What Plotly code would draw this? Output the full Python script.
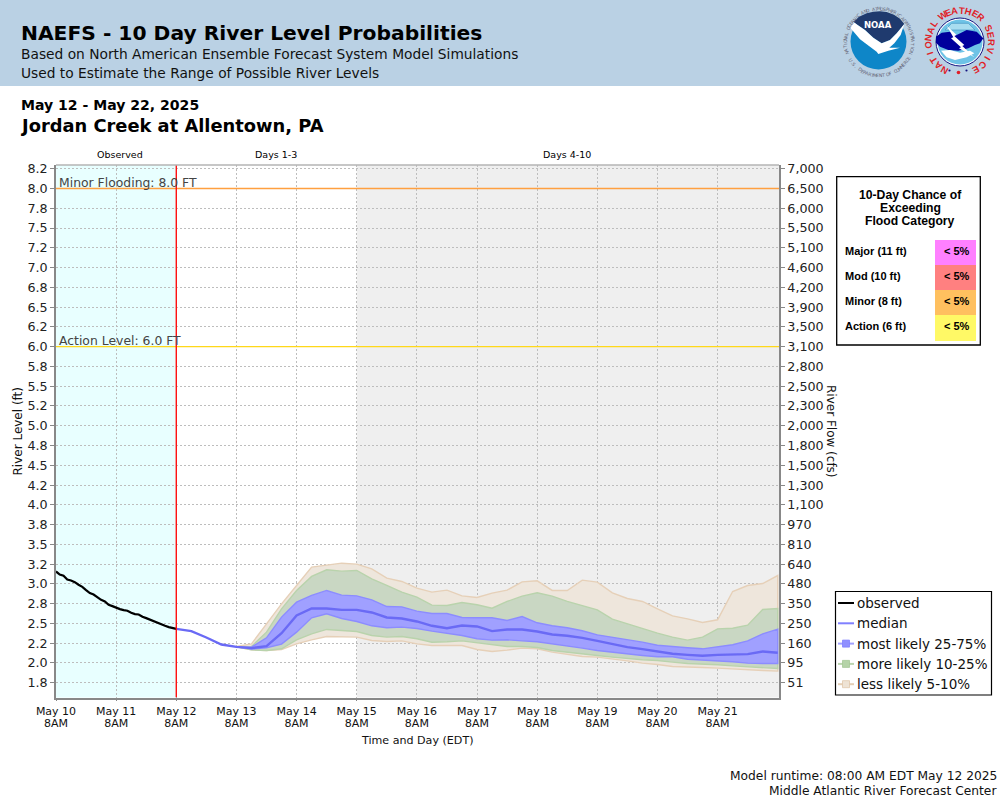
import math
import pandas as pd
import plotly.graph_objects as go

# ---------- data ----------
y_ticks = [8.25,8.0,7.75,7.5,7.25,7.0,6.75,6.5,6.25,6.0,5.75,5.5,5.25,5.0,4.75,4.5,4.25,4.0,3.75,3.5,3.25,3.0,2.75,2.5,2.25,2.0,1.75]
stage_labels = ["8.2","8.0","7.8","7.5","7.2","7.0","6.8","6.5","6.2","6.0","5.8","5.5","5.2","5.0","4.8","4.5","4.2","4.0","3.8","3.5","3.2","3.0","2.8","2.5","2.2","2.0","1.8"]
flow_labels = ["7,000","6,500","6,000","5,500","5,100","4,600","4,200","3,900","3,500","3,100","2,800","2,500","2,300","2,000","1,800","1,500","1,300","1,100","970","810","640","480","350","250","160","95","51"]
day_labels = ["May 10","May 11","May 12","May 13","May 14","May 15","May 16","May 17","May 18","May 19","May 20","May 21"]

observed = [3.157,3.119,3.102,3.056,3.043,3.022,2.989,2.963,2.921,2.883,2.866,2.833,2.799,2.778,2.736,2.719,2.698,2.681,2.668,2.660,2.634,2.618,2.613,2.584,2.567,2.546,2.529,2.508,2.487,2.470,2.453,2.441,2.432]
median = [2.432,2.403,2.322,2.234,2.204,2.188,2.213,2.377,2.601,2.689,2.689,2.672,2.672,2.639,2.575,2.563,2.525,2.470,2.440,2.474,2.462,2.403,2.424,2.424,2.398,2.360,2.344,2.318,2.280,2.242,2.200,2.175,2.150,2.116,2.103,2.091,2.103,2.103,2.112,2.145,2.129]
p75 = [2.204,2.200,2.318,2.580,2.769,2.854,2.917,2.858,2.849,2.799,2.714,2.710,2.655,2.626,2.626,2.575,2.571,2.571,2.537,2.588,2.508,2.470,2.445,2.407,2.356,2.327,2.293,2.263,2.225,2.213,2.192,2.179,2.200,2.230,2.280,2.369,2.428]
p25 = [2.204,2.175,2.192,2.238,2.390,2.571,2.622,2.563,2.525,2.470,2.445,2.453,2.436,2.403,2.373,2.348,2.306,2.289,2.293,2.280,2.268,2.238,2.213,2.188,2.158,2.129,2.116,2.095,2.078,2.078,2.048,2.040,2.027,2.015,1.998,1.994,1.994]
p90 = [2.204,2.209,2.390,2.685,2.917,3.094,3.178,3.161,3.170,3.064,2.980,2.896,2.832,2.731,2.727,2.765,2.736,2.693,2.778,2.845,2.887,2.845,2.778,2.727,2.672,2.554,2.495,2.432,2.377,2.327,2.289,2.327,2.432,2.440,2.478,2.676,2.689]
p10 = [2.204,2.166,2.158,2.179,2.293,2.369,2.424,2.411,2.398,2.348,2.327,2.335,2.306,2.263,2.268,2.280,2.259,2.230,2.209,2.209,2.196,2.158,2.137,2.116,2.095,2.074,2.053,2.040,2.032,2.011,1.994,1.985,1.977,1.964,1.952,1.939,1.930]
p95 = [2.209,2.242,2.495,2.748,2.980,3.212,3.237,3.262,3.250,3.191,3.073,3.031,2.946,2.896,2.921,2.849,2.828,2.883,2.921,3.026,3.039,2.917,2.917,3.047,3.022,2.887,2.816,2.778,2.685,2.596,2.558,2.512,2.546,2.904,2.980,3.005,3.106]
p05 = [2.204,2.166,2.158,2.171,2.242,2.293,2.335,2.335,2.327,2.284,2.272,2.280,2.242,2.221,2.221,2.221,2.171,2.145,2.162,2.188,2.179,2.137,2.107,2.082,2.074,2.048,2.027,1.998,1.981,1.956,1.952,1.943,1.935,1.922,1.918,1.905,1.897]

flood_categories = ["Major (11 ft)","Mod (10 ft)","Minor (8 ft)","Action (6 ft)"]
flood_chances = ["< 5%","< 5%","< 5%","< 5%"]
flood_colors = ["#FF80FF","#FF8080","#FFC05F","#FFF966"]

obs_x = pd.date_range("2025-05-10 08:00", periods=len(observed), freq="90min")
med_x = pd.date_range("2025-05-12 08:00", periods=len(median), freq="6h")
band_x = list(pd.date_range("2025-05-13 08:00", periods=len(p75), freq="6h"))
day_x = list(pd.date_range("2025-05-10 08:00", periods=len(day_labels), freq="1D"))
X0, X1 = "2025-05-10 08:00", "2025-05-22 08:30"
Y0, Y1 = 1.5635, 8.297

# ---------- helpers (pixel -> paper) ----------
W, H = 1000, 800
PL, PR, PT, PB = 56, 779, 165, 697.5
def fx(p): return p / W
def fy(p): return 1 - p / H
shapes, ann = [], []

def rect(x0, y0, x1, y1, fill, line=None, lw=1, layer="below"):
    shapes.append(dict(type="rect", xref="paper", yref="paper", x0=fx(x0), x1=fx(x1), y0=fy(y0), y1=fy(y1),
                       fillcolor=fill, line=dict(color=line or "rgba(0,0,0,0)", width=lw if line else 0), layer=layer))
def circle(cx, cy, r, fill, line=None, lw=1, layer="above"):
    shapes.append(dict(type="circle", xref="paper", yref="paper", x0=fx(cx-r), x1=fx(cx+r), y0=fy(cy+r), y1=fy(cy-r),
                       fillcolor=fill, line=dict(color=line or "rgba(0,0,0,0)", width=lw if line else 0), layer=layer))
def poly(points, fill, line=None, lw=1, ox=835, scale=3.0):
    d = "M" + " L".join(f"{fx(ox+a/scale):.5f},{fy(b/scale):.5f}" for a, b in points) + " Z"
    shapes.append(dict(type="path", xref="paper", yref="paper", path=d, fillcolor=fill,
                       line=dict(color=line or "rgba(0,0,0,0)", width=lw if line else 0), layer="above"))
def seg(x0, y0, x1, y1, color, lw):
    shapes.append(dict(type="line", xref="paper", yref="paper", x0=fx(x0), x1=fx(x1), y0=fy(y0), y1=fy(y1),
                       line=dict(color=color, width=lw), layer="above"))
def text(x, y, s, size, family="DejaVu Sans", color="#000", anchor="left", bold=False, angle=0):
    ann.append(dict(xref="paper", yref="paper", x=fx(x), y=fy(y), text=(f"<b>{s}</b>" if bold else s), showarrow=False,
                    xanchor=anchor, yanchor="middle", align=anchor, textangle=angle,
                    font=dict(family=family, size=size, color=color), borderpad=0, borderwidth=0))

# ---------- header ----------
rect(0, 0, 1000, 86, "#BAD1E4")
text(21, 33, "NAEFS - 10 Day River Level Probabilities", 20.25, bold=True)
text(21, 54, "Based on North American Ensemble Forecast System Model Simulations", 13.77, color="#111")
text(21, 73, "Used to Estimate the Range of Possible River Levels", 13.77, color="#111")
text(21, 105, "May 12 - May 22, 2025", 14.06, bold=True)
text(21, 126, "Jordan Creek at Allentown, PA", 17.85, bold=True)
text(120, 154, "Observed", 9.5, anchor="center")
text(276, 154, "Days 1-3", 9.5, anchor="center")
text(567, 154, "Days 4-10", 9.5, anchor="center")

# ---------- NOAA logo ----------
ncx, ncy = 878.5, 41.5
circle(ncx, ncy, 28, "#0E86C8")
poly([(55,66),(72,50),(95,40),(115,35),(135,34),(155,36),(177,44),(195,56),(208,72),(185,100),(165,120),(140,130),(115,113),(90,90)], "#1F3A6E")
poly([(47,85),(55,66),(90,90),(115,113),(140,130),(165,120),(185,100),(208,72),(197,105),(178,130),(163,143),(195,143),(160,152),(130,162),(125,155),(105,140),(75,118)], "#FFFFFF")
text(ncx-0.5, 25, "NOAA", 8.5, color="#FFFFFF", anchor="center", bold=True)
def ring(s, start, step, cx, cy, r, size, color, bold=False, family="DejaVu Sans", flip=False):
    for i, ch in enumerate(s):
        if ch == " ":
            continue
        a = math.radians(start + i * step)
        px, py = cx + r * math.sin(a), cy - r * math.cos(a)
        ang = (start + i * step) + (180 if flip else 0)
        text(px, py, ch, size, family=family, color=color, anchor="center", bold=bold, angle=ang)
ring("NATIONAL OCEANIC AND ATMOSPHERIC ADMINISTRATION", -107, 214/46, 879, 42.5, 33.5, 4.6, "#667")
ring("U.S. DEPARTMENT OF COMMERCE", 238, -120/26, 879, 42.5, 33.5, 4.6, "#667", flip=True)

# ---------- NWS logo ----------
wcx, wcy = 960, 42
circle(wcx, wcy, 24, "#FFFFFF", "#12127F", 1)
circle(wcx, wcy, 22.5, "#6EC3E6")
poly([(350,70),(400,70),(420,90),(330,90)], "#A8DDF0", "#3B8FC0", 0.6)
poly([(303,110),(320,98),(345,95),(365,105),(395,90),(425,95),(445,115),(435,130),(420,135),(400,145),(370,152),(340,150),(315,140),(303,128)], "#00009C")
poly([(318,152),(345,150),(375,158),(405,152),(418,160),(395,172),(360,180),(335,172)], "#FFFFFF")
poly([(335,77),(365,105),(358,108),(388,135),(382,138),(418,172),(372,145),(378,142),(348,115),(355,112)], "#FFFFFF")
ring("NATIONAL", 209, 96/7, wcx, wcy, 32, 9.4, "#E01F28", bold=True, family="Liberation Sans")
ring("WEATHER", 326, 75/6, wcx, wcy, 32, 9.4, "#E01F28", bold=True, family="Liberation Sans")
ring("SERVICE", 63, 87/6, wcx, wcy, 32, 9.4, "#E01F28", bold=True, family="Liberation Sans")
circle(949.5, 70.5, 1.1, "#12127F")
circle(958.5, 72.5, 1.8, "#E01F28")
circle(966.5, 70.5, 1.1, "#12127F")

# ---------- flood annotations ----------
text(59, 182, "Minor Flooding: 8.0 FT", 12.4, color="#444")
text(59, 340, "Action Level: 6.0 FT", 12.4, color="#444")

# ---------- axis titles placed by hand ----------
text(17.5, 432, "River Level (ft)", 12, color="#111", anchor="center", angle=-90)
text(831, 431, "River Flow (cfs)", 12, color="#111", anchor="center", angle=90)
text(417, 740, "Time and Day (EDT)", 11.1, color="#111", anchor="center")

# ---------- chance table ----------
rect(836.7, 176.7, 980.3, 345, "#FFFFFF", "#000", 1.3)
for i, line in enumerate(["10-Day Chance of", "Exceeding", "Flood Category"]):
    text(910, 194.7 + 13.2 * i, line, 12.2, family="Liberation Sans", anchor="center", bold=True)
for i in range(4):
    rect(935, 240 + 25 * i, 976, 265 + 25 * i + (1 if i == 3 else 0), flood_colors[i], layer="above")
    text(845, 251 + 25 * i, flood_categories[i], 11, family="Liberation Sans", bold=True)
    text(957, 251 + 25 * i, flood_chances[i], 11, family="Liberation Sans", anchor="center", bold=True)

# ---------- legend (drawn by hand to match narrow swatches) ----------
rect(835.5, 591.5, 991.5, 695, "#FFFFFF", "#000", 1.2)
leg = [("observed", "#000000", None, None), ("median", "#8080FF", None, None),
       ("most likely 25-75%", "#A0A0FF", "#9090FF", "#8080FF"),
       ("more likely 10-25%", "#BBD5AF", "#B5D3A8", "#A5C795"),
       ("less likely 5-10%", "#E5CFB5", "#EEE3D5", "#E0C8AC")]
for i, (lab, lc, sq, edge) in enumerate(leg):
    yy = 603 + 20.3 * i
    seg(838, yy, 854, yy, lc, 2)
    if sq:
        rect(842.5, yy - 3.5, 849.5, yy + 3.5, sq, edge, 0.8, layer="above")
    text(857, yy, lab, 13.5, color="#111")

# ---------- data-anchored shapes ----------
def vband(a, b, color):
    shapes.append(dict(type="rect", xref="x", yref="paper", x0=a, x1=b, y0=fy(PB), y1=fy(PT),
                       fillcolor=color, line=dict(width=0), layer="below"))
vband("2025-05-10 08:00", "2025-05-12 08:00", "#E8FFFF")
vband("2025-05-15 08:00", X1, "#EFEFEF")
shapes.append(dict(type="line", xref="x", yref="y", x0=X0, x1=X1, y0=8.0, y1=8.0, line=dict(color="#FFA040", width=1.3), layer="above"))
shapes.append(dict(type="line", xref="x", yref="y", x0=X0, x1=X1, y0=6.0, y1=6.0, line=dict(color="#FFD81A", width=1.3), layer="above"))
shapes.append(dict(type="line", xref="x", yref="y", x0="2025-05-12 08:00", x1="2025-05-12 08:00", y0=Y0, y1=Y1, line=dict(color="#FF1010", width=1.4), layer="above"))
seg(PL, PT, PR, PT, "#B5B5B5", 1.3)

# ---------- traces ----------
fig = go.Figure()
def band(low, high, name, fill, edge):
    fig.add_trace(go.Scatter(x=band_x + band_x[::-1], y=high + low[::-1], mode="lines", name=name, fill="toself",
                             fillcolor=fill, line=dict(color=edge, width=1.4), showlegend=False, hoverinfo="skip"))
band(p05, p95, "less likely 5-10%", "#EEE6DC", "#E6D0B8")
band(p10, p90, "more likely 10-25%", "#C9D7C3", "#B9D3AC")
band(p25, p75, "most likely 25-75%", "#A0A0FF", "#8C8CFF")
fig.add_trace(go.Scatter(x=med_x, y=median, mode="lines", name="median", line=dict(color="#6A6AF5", width=2.4), showlegend=False))
fig.add_trace(go.Scatter(x=obs_x, y=observed, mode="lines", name="observed", line=dict(color="#000000", width=2.2), showlegend=False))
fig.add_trace(go.Scatter(x=[], y=[], xaxis="x2", yaxis="y2", showlegend=False, hoverinfo="skip"))

tick_font = dict(family="DejaVu Sans", size=12.7, color="#222")
x_font = dict(family="DejaVu Sans", size=11, color="#111")
GRID = dict(showgrid=True, gridcolor="#BDBDBD", griddash="2px,2px", gridwidth=1, zeroline=False, automargin=False)
fig.update_layout(
    width=W, height=H, margin=dict(l=0, r=0, t=0, b=0, pad=0), paper_bgcolor="#FFFFFF", plot_bgcolor="rgba(0,0,0,0)",
    showlegend=False, shapes=shapes, annotations=ann, font=dict(family="DejaVu Sans"),
    xaxis=dict(domain=[fx(PL), fx(PR)], type="date", range=[X0, X1], tickmode="array", tickvals=day_x, ticktext=day_labels,
               tickangle=0, ticks="outside", ticklen=2, tickcolor="#888", showline=True, linecolor="#888", linewidth=1.6,
               tickfont=x_font, anchor="y", **GRID),
    xaxis2=dict(overlaying="x", anchor="y", side="bottom", type="date", range=[X0, X1], tickmode="array", tickvals=day_x,
                ticktext=["8AM"] * len(day_x), ticks="", showgrid=False, showline=False, zeroline=False, ticklabelstandoff=17,
                tickangle=0, automargin=False, tickfont=x_font),
    yaxis=dict(domain=[fy(PB), fy(PT)], range=[Y0, Y1], tickmode="array", tickvals=y_ticks, ticktext=stage_labels,
               ticks="outside", ticklen=4, tickcolor="#888", showline=True, linecolor="#888", linewidth=1.6,
               tickfont=tick_font, **GRID),
    yaxis2=dict(overlaying="y", anchor="x", side="right", range=[Y0, Y1], tickmode="array", tickvals=y_ticks, ticktext=flow_labels,
                ticks="outside", ticklen=4, tickcolor="#888", showline=True, linecolor="#888", linewidth=1.6, automargin=False,
                showgrid=False, zeroline=False, tickfont=tick_font),
)

# ---------- footer ----------
for yy, s in [(776, "Model runtime: 08:00 AM EDT May 12 2025"), (791, "Middle Atlantic River Forecast Center")]:
    fig.add_annotation(xref="paper", yref="paper", x=fx(999), y=fy(yy), text=s, showarrow=False, xanchor="right", yanchor="middle",
                       font=dict(family="DejaVu Sans", size=12.26, color="#111"))

fig.write_html("out.html", config=dict(displayModeBar=False), post_script="document.body.style.margin='0';document.body.style.overflow='hidden';")
